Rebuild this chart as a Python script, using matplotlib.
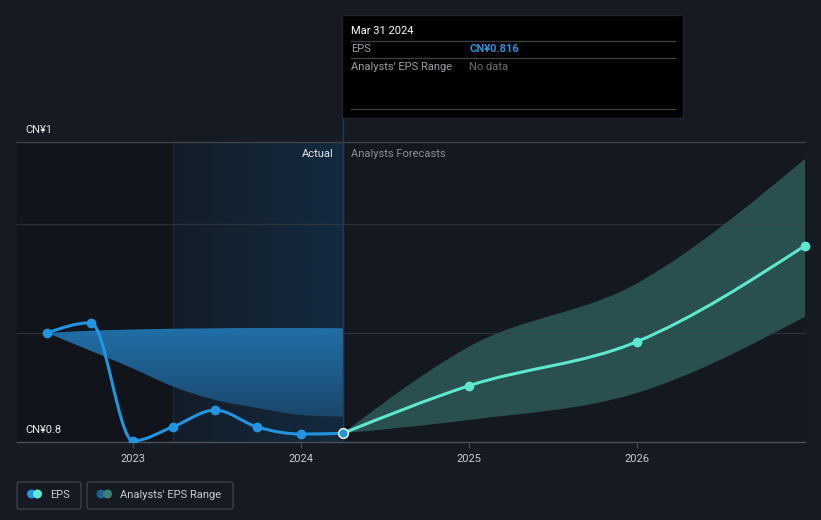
import numpy as np
import matplotlib.pyplot as plt
from matplotlib.path import Path
from matplotlib.patches import PathPatch, Rectangle, FancyBboxPatch, Ellipse
from matplotlib.lines import Line2D
from matplotlib.colors import LinearSegmentedColormap

plt.rcParams['font.family'] = ['Roboto', 'DejaVu Sans']

# EPS history (decimal years) and analysts' past range
eps_x = [2022.49, 2022.75, 2023.0, 2023.24, 2023.49, 2023.74, 2024.0, 2024.25]
eps_y = [0.8727, 0.8795, 0.8007, 0.8102, 0.8213, 0.8100, 0.8053, 0.8058]
past_hi = [0.8727, 0.8742, 0.8750, 0.8755, 0.8758, 0.8760, 0.8760, 0.8758]
past_lo = [0.8727, 0.8607, 0.8490, 0.8369, 0.8280, 0.8227, 0.8180, 0.8169]

# forecasts
fc_x = [2024.25, 2025.0, 2026.0, 2027.0]
fc_y = [0.8058, 0.8375, 0.8669, 0.9309]
fc_hi = [0.8058, 0.8635, 0.9058, 0.9887]
fc_lo = [0.8058, 0.8147, 0.8327, 0.8835]

year_ticks = [2023, 2024, 2025, 2026]
grid_vals = [0.8727, 0.9453]

BG = '#151a23'
W, H = 821, 520


def px(x, y):
    return x / W, 1 - y / H


def monotone_path(xs, ys):
    # cubic bezier pieces with monotone (d3 monotoneX style) tangents
    xs = np.asarray(xs, float)
    ys = np.asarray(ys, float)
    n = len(xs)
    h = np.diff(xs)
    s = np.diff(ys) / h
    t = np.zeros(n)
    for i in range(1, n - 1):
        p = (s[i - 1] * h[i] + s[i] * h[i - 1]) / (h[i - 1] + h[i])
        t[i] = (np.sign(s[i - 1]) + np.sign(s[i])) * min(abs(s[i - 1]), abs(s[i]), 0.5 * abs(p))
    t[0] = (3 * s[0] - t[1]) / 2
    t[-1] = (3 * s[-1] - t[-2]) / 2
    verts = [(xs[0], ys[0])]
    codes = [Path.MOVETO]
    for i in range(n - 1):
        dx = h[i] / 3
        verts += [(xs[i] + dx, ys[i] + dx * t[i]),
                  (xs[i + 1] - dx, ys[i + 1] - dx * t[i + 1]),
                  (xs[i + 1], ys[i + 1])]
        codes += [Path.CURVE4] * 3
    return verts, codes


def band_path(xs, lo, hi):
    v1, c1 = monotone_path(xs, hi)
    v2, c2 = monotone_path(xs[::-1], lo[::-1])
    verts = v1 + [v2[0]] + v2[1:] + [v1[0]]
    codes = c1 + [Path.LINETO] + c2[1:] + [Path.CLOSEPOLY]
    return Path(verts, codes)


fig = plt.figure(figsize=(W / 100, H / 100), dpi=100, facecolor=BG)
ax = fig.add_axes([17 / W, (H - 442) / H, 788 / W, 300 / H])
ax.set_facecolor('#141921')
ax.set_xlim(2022.31, 2027.0)
ax.set_ylim(0.8, 1.0)
for sp in ax.spines.values():
    sp.set_visible(False)
ax.set_yticks([])
ax.set_xticks(year_ticks)
ax.set_xticklabels([str(y) for y in year_ticks], color='#c9ccd1', fontsize=8)
ax.tick_params(axis='x', length=4, color='#4a5059', pad=5)

# darker area before last year, highlighted last year of actuals
ax.axvspan(2022.31, 2023.24, color='#11151b', zorder=0)
grad = np.linspace(0, 1, 256).reshape(1, -1)
ax.imshow(grad, extent=[2023.24, 2024.25, 0.8, 1.0], aspect='auto', zorder=0.5,
          cmap=LinearSegmentedColormap.from_list('hl', ['#131d28', '#132a40']))
ax.axvline(2023.24, color='#1a2b3c', lw=0.8, zorder=0.6)

# forecast range
ax.add_patch(PathPatch(band_path(fc_x, fc_lo, fc_hi), facecolor='#2c5655', edgecolor='none',
                       alpha=0.9, zorder=2))

# gridlines
for g in grid_vals:
    ax.axhline(g, color='#3a404a', lw=1, alpha=0.6, zorder=2.2)
ax.axhline(1.0, color='#3c424b', lw=1, zorder=2.2, clip_on=False)
ax.axhline(0.8, color='#4a5059', lw=1, zorder=2.2, clip_on=False)

# past analysts range with vertical gradient
past_patch = PathPatch(band_path(eps_x, past_lo, past_hi), facecolor='none', edgecolor='none')
ax.add_patch(past_patch)
vg = np.linspace(1, 0, 256).reshape(-1, 1)
im = ax.imshow(vg, extent=[2022.49, 2024.25, 0.815, 0.877], aspect='auto', zorder=2.4,
               cmap=LinearSegmentedColormap.from_list('pb', ['#1b4568', '#2070a9']))
im.set_clip_path(past_patch)

# lines
v, c = monotone_path(eps_x, eps_y)
ax.add_patch(PathPatch(Path(v, c), facecolor='none', edgecolor='#2394df', lw=2.2, zorder=3))
ax.plot(eps_x[:-1], eps_y[:-1], 'o', color='#2394df', ms=6, zorder=4)
v, c = monotone_path(fc_x, fc_y)
ax.add_patch(PathPatch(Path(v, c), facecolor='none', edgecolor='#5de8cf', lw=2.2, zorder=3))
ax.plot(fc_x[1:], fc_y[1:], 'o', color='#5de8cf', ms=6, zorder=4, clip_on=False)
ax.plot(eps_x[-1:], eps_y[-1:], 'o', color='#2394df', mec='white', mew=1, ms=7, zorder=5)

# tooltip line
ax.axvline(2024.25, ymin=0, ymax=(442 - 15) / 300, color='#263a4f', lw=1, clip_on=False, zorder=2.5)

# axis value labels
fig.text(*px(25, 130), 'CN¥1', color='#e6e8eb', fontsize=8, va='center')
fig.text(*px(25, 430), 'CN¥0.8', color='#e6e8eb', fontsize=8, va='center')
fig.text(*px(334, 154), 'Actual', color='#e6e8eb', fontsize=8, va='center', ha='right')
fig.text(*px(351, 154), 'Analysts Forecasts', color='#8a8f96', fontsize=8, va='center')

# tooltip box
fig.patches.append(Rectangle(px(342, 118), 341 / W, 103 / H, transform=fig.transFigure,
                             facecolor='black', edgecolor='#1e242c', lw=1, zorder=5))
for yy in (41, 58, 109):
    fig.lines.append(Line2D([351 / W, 675 / W], [1 - yy / H] * 2, transform=fig.transFigure,
                            color='#3a3f47', lw=1, zorder=6))
fig.text(*px(351, 31), 'Mar 31 2024', color='white', fontsize=8, va='center', zorder=7)
fig.text(*px(351, 49.5), 'EPS', color='#9a9ea5', fontsize=8, va='center', zorder=7)
fig.text(*px(469, 49.5), 'CN¥0.816', color='#2394df', fontsize=8, va='center', weight='bold', zorder=7)
fig.text(*px(351, 66.5), "Analysts' EPS Range", color='#9a9ea5', fontsize=8, va='center', zorder=7)
fig.text(*px(469, 66.5), 'No data', color='#6b7078', fontsize=8, va='center', zorder=7)

# legend
for x0, x1 in ((17, 81), (87, 233)):
    fig.patches.append(FancyBboxPatch(px(x0, 509), (x1 - x0) / W, 27 / H, transform=fig.transFigure,
                                      boxstyle='round,pad=0,rounding_size=0.004',
                                      facecolor='none', edgecolor='#3a414b', lw=1))
for cx, col in ((31.5, '#2394df'), (37.5, '#5de8cf'), (101, '#1f5f8f'), (107.5, '#3a8079')):
    fig.patches.append(Ellipse(px(cx, 494), 9 / W, 9 / H, transform=fig.transFigure,
                               facecolor=col, edgecolor='none'))
fig.text(*px(50, 494.5), 'EPS', color='#c9ccd1', fontsize=8, va='center')
fig.text(*px(120, 494.5), "Analysts' EPS Range", color='#c9ccd1', fontsize=8, va='center')

fig.savefig('out.png', dpi=100, facecolor=BG)
